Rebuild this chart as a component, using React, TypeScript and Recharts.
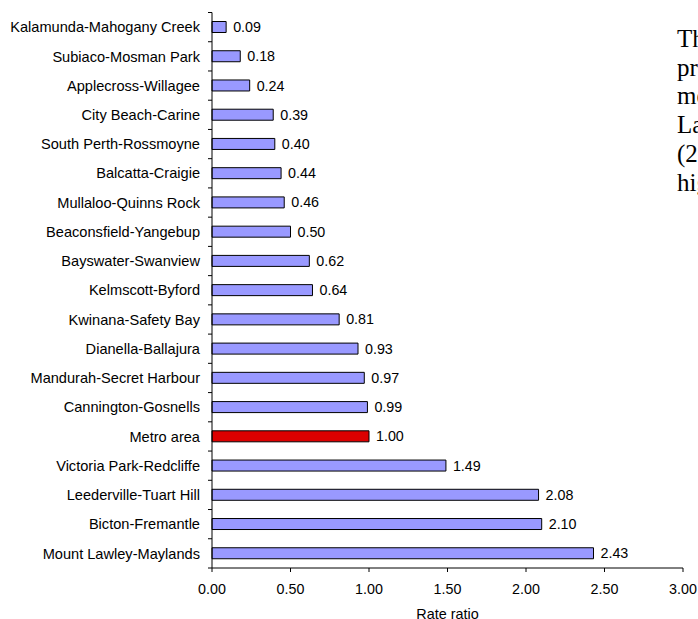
import React from 'react';
import { BarChart, Bar, XAxis, YAxis, Cell, LabelList } from 'recharts';

const categories = [
  'Kalamunda-Mahogany Creek',
  'Subiaco-Mosman Park',
  'Applecross-Willagee',
  'City Beach-Carine',
  'South Perth-Rossmoyne',
  'Balcatta-Craigie',
  'Mullaloo-Quinns Rock',
  'Beaconsfield-Yangebup',
  'Bayswater-Swanview',
  'Kelmscott-Byford',
  'Kwinana-Safety Bay',
  'Dianella-Ballajura',
  'Mandurah-Secret Harbour',
  'Cannington-Gosnells',
  'Metro area',
  'Victoria Park-Redcliffe',
  'Leederville-Tuart Hill',
  'Bicton-Fremantle',
  'Mount Lawley-Maylands',
];

const rateRatios = [
  0.09, 0.18, 0.24, 0.39, 0.4, 0.44, 0.46, 0.5, 0.62, 0.64, 0.81, 0.93, 0.97, 0.99, 1.0, 1.49, 2.08, 2.1, 2.43,
];

const xTicks = [0, 0.5, 1, 1.5, 2, 2.5, 3];

const highlightCategory = 'Metro area';

const paragraphLines = [
  'The highest rate ratios of',
  'presentations were in the',
  'metropolitan areas of Mount',
  'Lawley-Maylands',
  '(2.43) and Bicton-Fremantle,',
  'higher than the metro area.',
];

const data = categories.map((name, i) => ({ name, value: rateRatios[i] }));

const W = 698;
const H = 619;
const MARGIN_TOP = 12.5;
const X_AXIS_H = 51;
const Y_AXIS_W = 212;
const BAND = (H - MARGIN_TOP - X_AXIS_H) / categories.length;
const FONT = '"Liberation Sans", Arial, sans-serif';

const YTick = (props: any) => {
  const { x, y, payload, index } = props;
  const ax = x + 12;
  return (
    <g>
      <line x1={ax - 4} x2={ax} y1={y - BAND / 2} y2={y - BAND / 2} stroke="#000" strokeWidth={1} />
      {index === categories.length - 1 && (
        <line x1={ax - 4} x2={ax} y1={y + BAND / 2} y2={y + BAND / 2} stroke="#000" strokeWidth={1} />
      )}
      <text x={x} y={y} dy="0.355em" textAnchor="end" fontSize={14.6} fontFamily={FONT} fill="#000">
        {payload.value}
      </text>
    </g>
  );
};

export default function App() {
  return (
    <div
      style={{
        position: 'fixed',
        top: 0,
        left: 0,
        width: W,
        height: H,
        overflow: 'hidden',
        background: '#fff',
      }}
    >
      <BarChart
        width={W}
        height={H}
        data={data}
        layout="vertical"
        margin={{ top: MARGIN_TOP, right: 15, bottom: 0, left: 0 }}
        barCategoryGap={0}
      >
        <XAxis
          type="number"
          domain={[0, 3]}
          ticks={xTicks}
          interval={0}
          height={X_AXIS_H}
          tickSize={4}
          tickMargin={12}
          tickFormatter={(v: number) => v.toFixed(2)}
          tick={{ fontSize: 14.3, fontFamily: FONT, fill: '#000' }}
          axisLine={{ stroke: '#000' }}
          tickLine={{ stroke: '#000' }}
          label={{
            value: 'Rate ratio',
            position: 'insideBottom',
            offset: 0,
            style: { fontSize: 14.4, fontFamily: FONT, fill: '#000' },
          }}
        />
        <YAxis
          type="category"
          dataKey="name"
          width={Y_AXIS_W}
          interval={0}
          tickSize={4}
          tickMargin={8}
          tickLine={false}
          axisLine={{ stroke: '#000' }}
          tick={<YTick />}
        />
        <Bar dataKey="value" barSize={11} stroke="#000" strokeWidth={1} isAnimationActive={false}>
          {data.map((d) => (
            <Cell key={d.name} fill={d.name === highlightCategory ? '#DC0000' : '#9999FF'} />
          ))}
          <LabelList
            dataKey="value"
            position="right"
            offset={7}
            formatter={(v: any) => Number(v).toFixed(2)}
            style={{ fontSize: 14.3, fontFamily: FONT, fill: '#000' }}
          />
        </Bar>
      </BarChart>
      <div
        style={{
          position: 'absolute',
          left: 677,
          top: 25,
          fontFamily: '"Liberation Serif", "Times New Roman", serif',
          fontSize: 25,
          lineHeight: '28.7px',
          color: '#000',
          whiteSpace: 'nowrap',
        }}
      >
        {paragraphLines.map((l) => (
          <div key={l}>{l}</div>
        ))}
      </div>
    </div>
  );
}
